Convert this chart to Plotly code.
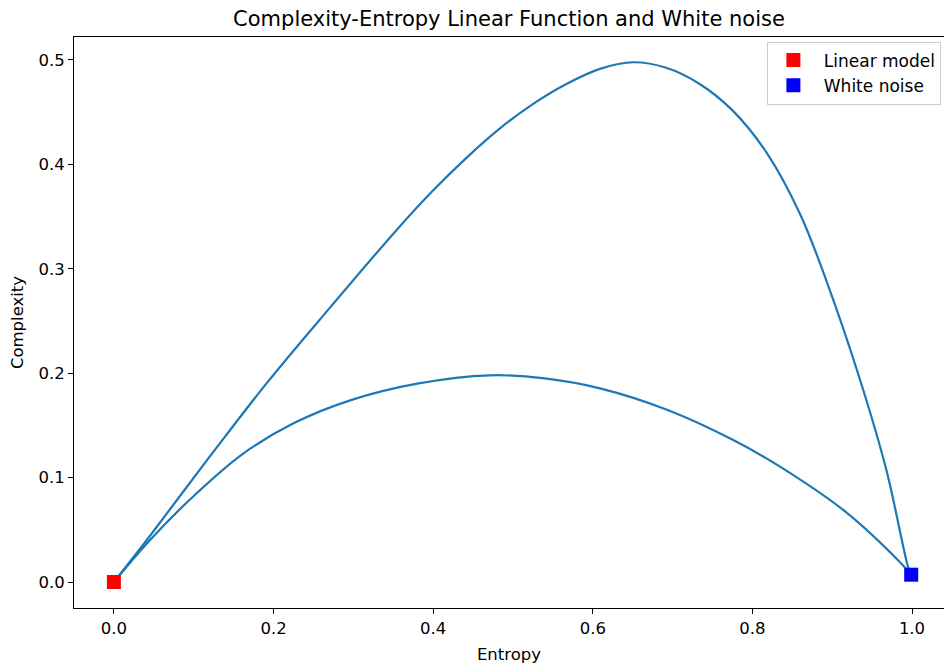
import plotly.graph_objects as go

# Upper (maximum complexity) curve
max_entropy = [0.0, 0.041, 0.12, 0.191, 0.271, 0.354, 0.398, 0.442, 0.4837, 0.5254, 0.567,
               0.609, 0.651, 0.692, 0.734, 0.776, 0.818, 0.86, 0.893, 0.935, 0.968, 0.995, 0.999]
max_complexity = [0.0, 0.040, 0.12, 0.19, 0.263, 0.337, 0.3735, 0.4065, 0.4345, 0.458, 0.477,
                  0.4915, 0.4978, 0.4925, 0.477, 0.451, 0.411, 0.352, 0.288, 0.1935, 0.107, 0.0147, 0.007]

# Lower (minimum complexity) curve
min_entropy = [0.0, 0.045, 0.099, 0.162, 0.225, 0.296, 0.38, 0.471, 0.54, 0.609, 0.693,
               0.776, 0.8346, 0.918, 0.985, 0.999]
min_complexity = [0.0, 0.040, 0.0817, 0.123, 0.152, 0.174, 0.19, 0.198, 0.195, 0.1855, 0.165,
                  0.136, 0.1105, 0.0665, 0.019, 0.007]

linear_model = (0.0, 0.0)
white_noise = (0.999, 0.007)

FONT = "DejaVu Sans"
BLUE = "#1f77b4"

fig = go.Figure()
for xs, ys in ((max_entropy, max_complexity), (min_entropy, min_complexity)):
    fig.add_trace(go.Scatter(x=xs, y=ys, mode="lines",
                             line=dict(color=BLUE, width=2.2, shape="spline", smoothing=1.0),
                             showlegend=False, hoverinfo="skip"))
fig.add_trace(go.Scatter(x=[linear_model[0]], y=[linear_model[1]], mode="markers",
                         name=" Linear model",
                         marker=dict(symbol="square", color="red", size=14, line=dict(width=0))))
fig.add_trace(go.Scatter(x=[white_noise[0]], y=[white_noise[1]], mode="markers",
                         name=" White noise",
                         marker=dict(symbol="square", color="blue", size=14, line=dict(width=0))))

axis_common = dict(showgrid=False, zeroline=False, showline=True, linecolor="black", linewidth=1,
                   ticks="outside", ticklen=5, tickwidth=1, tickcolor="black",
                   tickfont=dict(family=FONT, size=16.5, color="black"))

fig.update_layout(
    width=944, height=664,
    margin=dict(l=74, r=0, t=37, b=56),
    paper_bgcolor="white", plot_bgcolor="white",
    font=dict(family=FONT, color="black"),
    title=dict(text="Complexity-Entropy Linear Function and White noise",
               x=0.5, xref="paper", xanchor="center",
               y=1 - 19 / 664, yanchor="middle",
               font=dict(family=FONT, size=21, color="black")),
    xaxis=dict(range=[-0.05, 1.0401], tickvals=[0, 0.2, 0.4, 0.6, 0.8, 1.0],
               ticktext=["0.0", "0.2", "0.4", "0.6", "0.8", "1.0"], mirror=True,
               title=dict(text="Entropy", font=dict(family=FONT, size=16.5), standoff=12),
               **axis_common),
    yaxis=dict(range=[-0.0249, 0.522], tickvals=[0, 0.1, 0.2, 0.3, 0.4, 0.5],
               ticktext=["0.0", "0.1", "0.2", "0.3", "0.4", "0.5"], mirror=False,
               title=dict(text="Complexity", font=dict(family=FONT, size=16.5), standoff=10),
               **axis_common),
    legend=dict(x=0.797, y=0.992, xanchor="left", yanchor="top", itemwidth=40,
                bgcolor="rgba(255,255,255,0.8)", bordercolor="#cccccc", borderwidth=1,
                font=dict(family=FONT, size=17, color="black")),
)

fig.write_html("out.html")
